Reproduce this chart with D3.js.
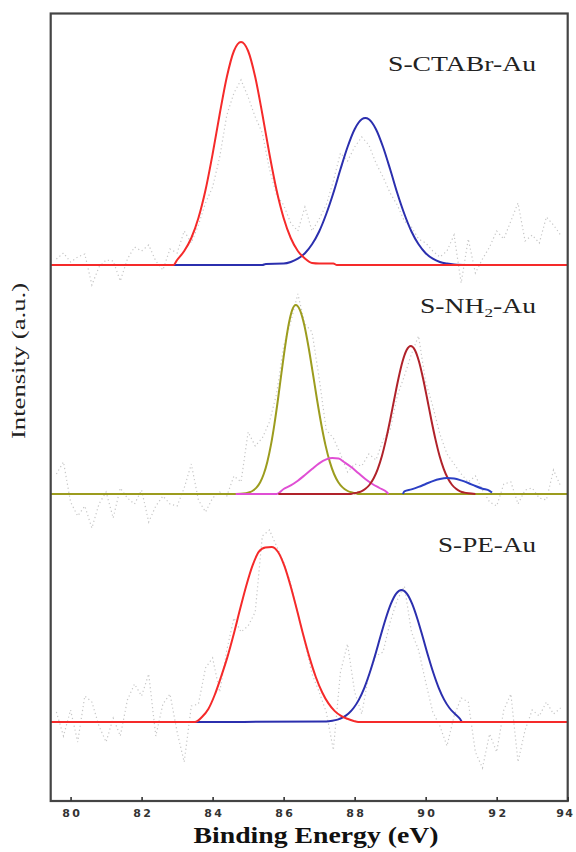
<!DOCTYPE html>
<html><head><meta charset="utf-8">
<script src="https://cdn.jsdelivr.net/npm/d3@7"></script>
<style>html,body{margin:0;padding:0;background:#fff;} svg{display:block}</style>
</head><body>
<svg id="chart" width="576" height="852"></svg>
<script>
// ---------------- DATA ----------------
const xTicks = [80, 82, 84, 86, 88, 90, 92, 94];
const panelNames = ["S-CTABr-Au", "S-NH2-Au", "S-PE-Au"];
// vertical stacking offset of each spectrum (intensity units)
const stackOffset = [457, 228, 0];

// raw (noisy) spectra, sampled on rawEnergy
const rawEnergy = [79.6,79.8,80.0,80.2,80.4,80.6,80.8,81.0,81.2,81.4,
  81.6,81.8,82.0,82.2,82.4,82.6,82.8,83.0,83.2,83.4,
  83.6,83.8,84.0,84.2,84.4,84.6,84.8,85.0,85.2,85.4,
  85.6,85.8,86.0,86.2,86.4,86.6,86.8,87.0,87.2,87.4,
  87.6,87.8,88.0,88.2,88.4,88.6,88.8,89.0,89.2,89.4,
  89.6,89.8,90.0,90.2,90.4,90.6,90.8,91.0,91.2,91.4,
  91.6,91.8,92.0,92.2,92.4,92.6,92.8,93.0,93.2,93.4,
  93.6,93.8];
const rawCTABr = [6,12,3,8,11,-20,-2,5,4,-16,
  6,18,14,20,4,-5,16,12,34,22,
  40,62,78,108,150,172,185,168,148,132,
  96,70,60,42,34,58,34,46,60,84,
  112,104,118,128,120,102,88,72,60,44,
  38,26,22,14,8,14,30,-18,26,-8,
  6,18,34,26,44,62,24,30,22,48,
  40,30];
const rawNH2 = [20,32,-8,-22,-12,-34,-10,2,-24,6,
  -4,-10,4,-28,-12,-2,-10,-12,6,30,
  -6,-18,-4,2,-2,18,12,62,48,56,
  72,100,148,172,200,170,162,116,64,56,
  40,22,30,28,40,34,54,64,98,118,
  140,158,112,88,60,40,30,20,12,18,
  4,-8,-12,10,12,-10,4,6,-4,-6,
  24,8];
const rawPE = [10,-14,12,-20,26,20,-4,-20,4,-14,
  22,38,26,48,-14,18,28,-10,-40,16,
  18,54,64,30,72,104,90,96,110,186,
  192,176,160,138,108,80,48,30,10,-28,
  50,78,30,8,48,66,70,100,122,136,
  90,72,40,10,-4,-24,6,24,20,-30,
  -46,-12,-30,12,28,-40,-8,12,6,20,
  8,14];

// fitted components [binding energy, intensity]
const ctabrRed = [[79.44,0],[82.9,0],[83.0,5],[83.2,14],[83.4,27],[83.6,47],[83.8,75],[84.0,111],[84.2,151],[84.4,188],[84.6,214],[84.8,223],[85.0,214],[85.2,188],[85.4,151],[85.6,111],[85.8,75],[86.0,47],[86.2,27],[86.4,14],[86.6,6.5],[86.8,2],[87.0,1.5],[87.4,1.5],[87.5,0],[94,0]];
const ctabrBlue = [[82.3,0],[85.4,0],[85.5,1],[86.0,1.4],[86.2,3],[86.4,6.3],[86.6,11.8],[86.8,20.7],[87.0,33.5],[87.2,51],[87.4,72],[87.6,95.7],[87.8,118],[88.0,135.8],[88.2,145.7],[88.3,147],[88.4,145.7],[88.6,135.8],[88.8,118],[89.0,95.7],[89.2,72],[89.4,51],[89.6,33.5],[89.8,20.7],[90.0,11.8],[90.2,6.3],[90.4,3],[90.6,1.4],[90.8,0.5],[91.2,0]];
const nh2Olive = [[79.44,0],[84.65,0],[84.94,0.8],[85.04,1.7],[85.14,3.5],[85.24,6.6],[85.34,11.8],[85.44,20],[85.54,32.1],[85.64,48.6],[85.74,69.7],[85.84,94.5],[85.94,121.3],[86.04,147.2],[86.14,169.2],[86.24,183.9],[86.34,189],[86.46,183.9],[86.58,169.2],[86.70,147.2],[86.82,121.3],[86.94,94.5],[87.06,69.7],[87.18,48.6],[87.30,32.1],[87.42,20],[87.54,11.8],[87.66,6.6],[87.78,3.5],[87.90,1.7],[88.02,0.8],[88.12,0],[94,0]];
const nh2Magenta = [[84.65,0],[85.8,0],[86.0,5],[86.2,8.6],[86.4,13.3],[86.6,19],[86.8,25],[87.0,30.7],[87.2,34.6],[87.37,36],[87.55,35.5],[87.7,32],[87.9,27],[88.1,21],[88.3,15],[88.5,10],[88.7,6],[88.9,2],[88.95,0]];
const nh2DarkRed = [[85.85,0],[87.9,0],[87.956,0.65],[88.072,1.4],[88.188,2.7],[88.304,5.2],[88.42,9.25],[88.536,15.7],[88.652,25.2],[88.768,38],[88.884,54.6],[89.0,74],[89.116,95],[89.232,115.3],[89.348,132.5],[89.464,144],[89.58,148],[89.696,144],[89.812,132.5],[89.928,115.3],[90.044,95],[90.16,74],[90.276,54.6],[90.392,38],[90.508,25.2],[90.624,15.7],[90.74,9.25],[90.856,5.2],[90.972,2.7],[91.088,1.4],[91.204,0.65],[91.4,0]];
const nh2Blue = [[89.36,0],[89.4,2.7],[89.6,4.6],[89.8,7.1],[90.0,10],[90.2,12.9],[90.4,15],[90.6,16],[90.8,15.5],[91.0,13.6],[91.2,11],[91.4,8],[91.6,5.3],[91.8,3.2],[91.87,1.5]];
const peRed = [[79.44,0],[83.5,0],[83.7,5],[83.88,13],[84.058,27],[84.236,45],[84.414,64.6],[84.592,87.5],[84.77,112.4],[84.948,136.3],[85.126,156.6],[85.304,170.3],[85.482,174.5],[85.66,175],[85.838,170.3],[86.016,156.6],[86.194,136.3],[86.372,112.4],[86.55,87.5],[86.728,64.6],[86.906,45],[87.084,29.8],[87.262,18.6],[87.44,10.9],[87.618,6.1],[87.796,3.2],[87.974,1],[88.1,0],[94,0]];
const peBlue = [[83.5,0],[87.2,0.5],[87.37,1.2],[87.52,2.4],[87.67,4.6],[87.82,8.25],[87.97,14],[88.12,22.4],[88.27,33.9],[88.42,48.7],[88.57,66],[88.72,84.7],[88.87,102.8],[89.02,118.1],[89.17,128.4],[89.32,132],[89.47,128.4],[89.62,118.1],[89.77,102.8],[89.92,84.7],[90.07,66],[90.22,48.7],[90.37,33.9],[90.52,22.4],[90.67,14],[90.82,8.25],[90.97,3],[91.02,0]];

// ---------------- DRAWING ----------------
const svg = d3.select("#chart");
const x = d3.scaleLinear().domain([79.44, 94]).range([50.7, 567.7]);
const y = d3.scaleLinear().domain([-79, 708.5]).range([801, 13.5]);

svg.append("defs").append("clipPath").attr("id","plotclip")
  .append("rect").attr("x", x(79.44)).attr("y", y(708.5))
  .attr("width", x(94)-x(79.44)).attr("height", y(-79)-y(708.5));

const plot = svg.append("g").attr("clip-path","url(#plotclip)");

const rawSets = [rawCTABr, rawNH2, rawPE];
rawSets.forEach((vals, i) => {
  const off = stackOffset[i];
  const line = d3.line().x((d,j)=>x(rawEnergy[j])).y(d=>y(d+off));
  plot.append("path").attr("d", line(vals))
    .attr("fill","none").attr("stroke","#c6c6c6").attr("stroke-width",1.2)
    .attr("stroke-dasharray","1.2 2.8");
});

const fits = [
  {data: ctabrBlue, panel: 0, color: "#2b2fae"},
  {data: ctabrRed, panel: 0, color: "#f52a2a"},
  {data: nh2Olive, panel: 1, color: "#9c9c1e"},
  {data: nh2Magenta, panel: 1, color: "#e04fd4"},
  {data: nh2DarkRed, panel: 1, color: "#b0222a"},
  {data: nh2Blue, panel: 1, color: "#2b3fc4"},
  {data: peBlue, panel: 2, color: "#2b2fae"},
  {data: peRed, panel: 2, color: "#f52a2a"}
];
fits.forEach(f => {
  const off = stackOffset[f.panel];
  const line = d3.line().curve(d3.curveMonotoneX)
    .x(d=>x(d[0])).y(d=>y(d[1]+off));
  plot.append("path").attr("d", line(f.data))
    .attr("fill","none").attr("stroke", f.color).attr("stroke-width", 2)
    .attr("stroke-linejoin","round");
});

// panel labels
const labelY = [71, 313, 552];
const labelLen = [148, 116, 98];
panelNames.forEach((name, i) => {
  const t = svg.append("text").attr("x", 536).attr("y", labelY[i])
    .attr("text-anchor","end")
    .attr("font-family","'Liberation Serif','DejaVu Serif',serif")
    .attr("font-size", 21).attr("fill","#222")
    .attr("textLength", labelLen[i]).attr("lengthAdjust","spacingAndGlyphs");
  const m = name.match(/^(.*NH)(2)(.*)$/);
  if (m) {
    t.append("tspan").text(m[1]);
    t.append("tspan").attr("font-size", 13).attr("dy", 4).text(m[2]);
    t.append("tspan").attr("dy", -4).text(m[3]);
  } else {
    t.text(name);
  }
});

// frame
svg.append("rect").attr("x", x(79.44)).attr("y", y(708.5))
  .attr("width", x(94)-x(79.44)).attr("height", y(-79)-y(708.5))
  .attr("fill","none").attr("stroke","#444").attr("stroke-width",2.2);

// x axis
const axis = d3.axisBottom(x).tickValues(xTicks).tickSize(-4).tickSizeOuter(0).tickPadding(8)
  .tickFormat(d3.format("d"));
const gx = svg.append("g").attr("transform", `translate(0,${y(-79)})`).call(axis);
gx.select(".domain").remove();
gx.selectAll(".tick line").attr("stroke","#333").attr("stroke-width",1.6);
gx.selectAll(".tick text")
  .attr("font-family","'DejaVu Sans',sans-serif").attr("font-weight","bold")
  .attr("font-size", 11).attr("fill","#333")
  .attr("letter-spacing", 2.5).attr("dx", 1.2);
// last label is kept just inside the right edge of the page
gx.selectAll(".tick text").filter(d => d === xTicks[xTicks.length-1])
  .attr("text-anchor","end").attr("dx", 0).attr("letter-spacing", 1.5)
  .attr("x", 576 - x(94) - 2);

svg.append("text").attr("x", 316).attr("y", 843).attr("text-anchor","middle")
  .attr("font-family","'Liberation Serif','DejaVu Serif',serif")
  .attr("font-weight","bold").attr("font-size", 23).attr("fill","#111")
  .attr("textLength", 245).attr("lengthAdjust","spacingAndGlyphs")
  .text("Binding Energy (eV)");

svg.append("text").attr("transform","translate(25,361) rotate(-90)")
  .attr("text-anchor","middle")
  .attr("font-family","'Liberation Serif','DejaVu Serif',serif")
  .attr("font-size", 19).attr("fill","#222")
  .attr("textLength", 156).attr("lengthAdjust","spacingAndGlyphs")
  .text("Intensity (a.u.)");
</script>
</body></html>
